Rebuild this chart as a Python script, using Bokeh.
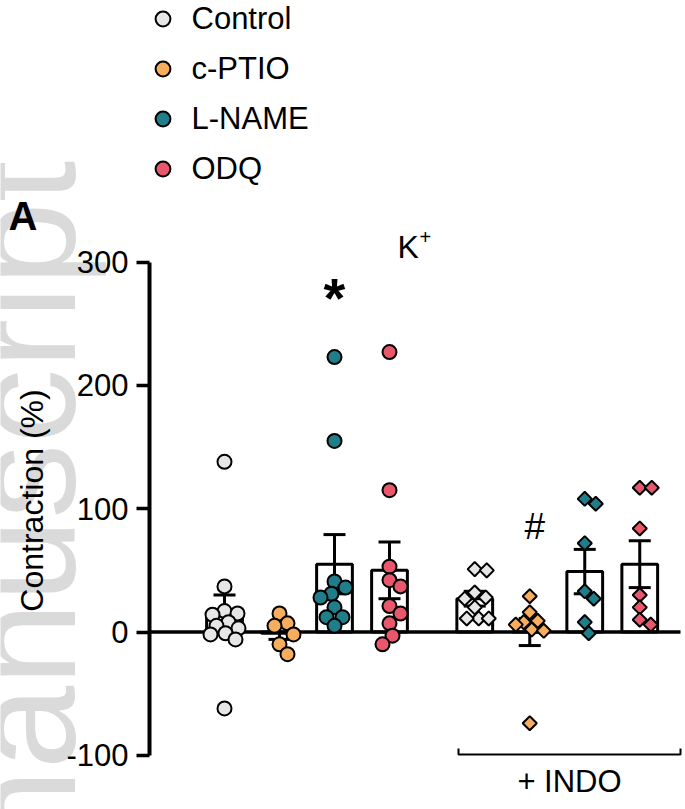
import numpy as np
from bokeh.plotting import figure
from bokeh.models import Range1d, LinearAxis, FixedTicker, Legend, LegendItem
from bokeh.core.properties import value
from bokeh.embed import file_html
from bokeh.resources import INLINE

# ---------------- data ----------------
groups = ["Control", "c-PTIO", "L-NAME", "ODQ"]
colors = ["#e6e6e6", "#f6ad5e", "#1f7e8a", "#e8576b"]

ctrl = [138, 37, 17, 15, 14, 8, 5, 3, -1, -2, -6, -62]
cptio = [15, 7, 5, -2, -10, -18]
lname = [223, 155, 41, 36, 31, 28, 20, 12, 12, 5]
odq = [227, 115, 53, 42, 37, 21, 15, 7, -3, -10]

ctrl_indo = [51, 50, 32, 28, 27, 20, 11, 11, 11]
cptio_indo = [29, 16, 9, 8, 6, 2, 1, -74]
lname_indo = [108, 104, 72, 33, 27, 8, -1]
odq_indo = [117, 117, 84, 30, 20, 10, 6]

means = [15, -1, 55, 50]
sems = [15, 5, 24, 23]
means_indo = [27, 0, 49, 55]
sems_indo = [6, 11, 18, 19]

y_ticks = [-100, 0, 100, 200, 300]
y_label = "Contraction (%)"
title_text = "K"
indo_label = "+ INDO"

# ---------------- layout ----------------
W, H = 685, 809
AXIS_PX = 149
SX = 55.0          # px per x unit
SY = 1.233         # px per y unit
ZERO_PY = 631.5
X1_PX = 224.0      # pixel of first group

def X(px):
    return 1 + (px - X1_PX) / SX

def Y(py):
    return (ZERO_PY - py) / SY

x_start = X(0)
x_end = X(W)
y_start = Y(H)
y_end = Y(0)

pos = [1, 2, 3, 4]
pos_indo = [5.55, 6.55, 7.55, 8.55]


def swarm(vals, d_px, maxoff=15):
    placed = []
    res = [0.0] * len(vals)
    cands = sorted(np.arange(-maxoff, maxoff + 0.5, 1.0), key=lambda c: (abs(c), -c))
    order = sorted(range(len(vals)), key=lambda i: -vals[i])
    for i in order:
        yv = vals[i] * SY
        best = None
        best_ov = 1e9
        best_c = 0.0
        for c in cands:
            ov = 0.0
            for (px_, py_) in placed:
                dist = np.hypot(c - px_, yv - py_)
                if dist < d_px:
                    ov = max(ov, d_px - dist)
            if ov == 0.0:
                best = c
                break
            if ov < best_ov:
                best_ov = ov
                best_c = c
        if best is None:
            best = best_c
        placed.append((best, yv))
        res[i] = best / SX
    return res


p = figure(width=W, height=H, x_range=Range1d(x_start, x_end), y_range=Range1d(y_start, y_end),
           output_backend="svg", toolbar_location=None,
           x_axis_location=None, y_axis_location=None,
           min_border_left=0, min_border_right=0, min_border_top=0, min_border_bottom=0)
p.outline_line_color = None
p.background_fill_color = "white"
p.border_fill_color = "white"
p.xgrid.grid_line_color = None
p.ygrid.grid_line_color = None
p.xgrid.visible = False
p.ygrid.visible = False

FONT = "Liberation Sans"

# watermark (faint, behind everything)
p.text(x=[X(22)], y=[Y(160)], text=["manuscript"], angle=np.pi / 2,
       text_font=value(FONT), text_font_size="150px", text_color="#dadada",
       text_align="right", text_baseline="alphabetic")

yax = LinearAxis(ticker=FixedTicker(ticks=y_ticks), bounds=(-100, 300), fixed_location=X(AXIS_PX))
yax.axis_line_width = 4
yax.axis_line_color = "black"
yax.major_tick_out = 13
yax.major_tick_in = 0
yax.major_tick_line_width = 3.5
yax.minor_tick_out = 0
yax.minor_tick_in = 0
yax.major_label_standoff = 8
yax.major_label_text_font = FONT
yax.major_label_text_font_size = "31px"
yax.major_label_text_color = "black"
yax.major_label_overrides = {-100: "-100"}
p.add_layout(yax, "left")

# y axis title
p.text(x=[X(31)], y=[Y(500)], text=[y_label], angle=np.pi / 2, text_font=value(FONT),
       text_font_size="32px", text_align="center", text_baseline="middle", text_color="black")

# bars
p.vbar(x=pos, top=means, bottom=0, width=0.65, fill_color="white", line_color="black", line_width=3)
p.vbar(x=pos_indo, top=means_indo, bottom=0, width=0.65, fill_color="white", line_color="black", line_width=3)

# zero line
bracket_right = X(680)
p.segment(x0=[X(AXIS_PX)], y0=[0], x1=[bracket_right], y1=[0], line_color="black", line_width=3.5)

# error bars
all_pos = pos + pos_indo
all_m = means + means_indo
all_s = sems + sems_indo
lo = [m - s for m, s in zip(all_m, all_s)]
hi = [m + s for m, s in zip(all_m, all_s)]
p.segment(x0=all_pos, y0=lo, x1=all_pos, y1=hi, line_color="black", line_width=3)
cap = 0.2
p.segment(x0=[x - cap for x in all_pos], y0=hi, x1=[x + cap for x in all_pos], y1=hi,
          line_color="black", line_width=3)
p.segment(x0=[x - cap for x in all_pos], y0=lo, x1=[x + cap for x in all_pos], y1=lo,
          line_color="black", line_width=3)

# points
base_sets = [ctrl, cptio, lname, odq]
indo_sets = [ctrl_indo, cptio_indo, lname_indo, odq_indo]
legend_items = []
for g, vals, x0, col in zip(groups, base_sets, pos, colors):
    offs = swarm(vals, 12.5, maxoff=14)
    r = p.scatter(x=[x0 + o for o in offs], y=vals, marker="circle", size=14,
                  fill_color=col, line_color="black", line_width=2)
    legend_items.append(LegendItem(label=g, renderers=[r]))
for vals, x0, col in zip(indo_sets, pos_indo, colors):
    offs = swarm(vals, 11.5, maxoff=14)
    p.scatter(x=[x0 + o for o in offs], y=vals, marker="square", angle=np.pi / 4, size=10,
              fill_color=col, line_color="black", line_width=2)

# annotations
p.text(x=[X(397)], y=[Y(246)], text=[title_text], text_font=value(FONT), text_font_size="32px",
       text_align="left", text_baseline="alphabetic", text_color="black")
p.text(x=[X(419)], y=[Y(236)], text=["+"], text_font=value(FONT), text_font_size="20px",
       text_align="left", text_baseline="alphabetic", text_color="black")
p.text(x=[pos[2]], y=[Y(297)], text=["*"], text_font=value(FONT), text_font_size="56px",
       text_font_style="bold", text_align="center", text_baseline="alphabetic", text_color="black")
p.text(x=[pos_indo[1] + 5 / SX], y=[Y(526)], text=["#"], text_font=value(FONT), text_font_size="37px",
       text_align="center", text_baseline="alphabetic", text_color="black")

# INDO bracket
by = Y(754)
bt = Y(748)
bl = X(458)
p.multi_line(xs=[[bl, bl, bracket_right, bracket_right]], ys=[[bt, by, by, bt]],
             line_color="black", line_width=2)
p.text(x=[(bl + bracket_right) / 2], y=[Y(781)], text=[indo_label], text_font=value(FONT),
       text_font_size="31px", text_align="center", text_baseline="alphabetic", text_color="black")

# panel letter
p.text(x=[X(8)], y=[Y(215)], text=["A"], text_font=value(FONT), text_font_size="40px",
       text_font_style="bold", text_align="left", text_baseline="alphabetic", text_color="black")

# legend
legend = Legend(items=legend_items, location=(143.5, H - 187))
legend.glyph_width = 37
legend.glyph_height = 37
legend.label_height = 37
legend.label_standoff = 11
legend.spacing = 13
legend.padding = 0
legend.margin = 0
legend.border_line_alpha = 0
legend.background_fill_alpha = 0
legend.label_text_font = FONT
legend.label_text_font_size = "31px"
legend.label_text_color = "black"
p.add_layout(legend)

open("out.html", "w").write(file_html(p, INLINE))
